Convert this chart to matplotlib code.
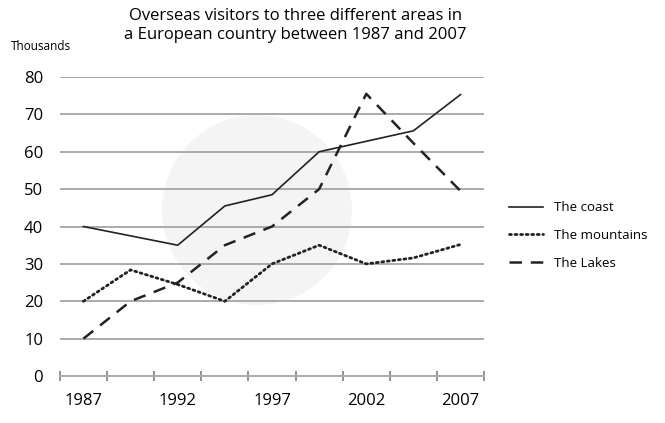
import matplotlib
matplotlib.use("Agg")
import matplotlib.pyplot as plt
from matplotlib.patches import Circle

# Data (thousands of visitors), 9 points from 1987 to 2007
years = ["1987", "", "1992", "", "1997", "", "2002", "", "2007"]
coast = [40, 37.5, 35, 45.5, 48.5, 60, 62.8, 65.6, 75.3]
mountains = [20, 28.4, 24.5, 20, 30, 35, 30, 31.6, 35.2]
lakes = [10, 20, 25, 35, 40, 50, 75.5, 62.3, 49.5]

plt.rcParams["font.family"] = ["Open Sans", "DejaVu Sans"]

fig = plt.figure(figsize=(6.65, 4.23), dpi=100)
ax = fig.add_axes([0.090, 0.111, 0.638, 0.707])
ax.set_facecolor("none")

# faint round watermark behind the plot
fig.patches.append(Circle((257, 213), 95, transform=None, facecolor="#f4f4f4",
                          edgecolor="none", zorder=-5))

x = list(range(len(years)))
ax.plot(x, coast, color="#222222", lw=1.2, label="The coast")
ax.plot(x, mountains, color="#222222", lw=2.0, linestyle=(0, (0.7, 1.3)),
        dash_capstyle="round", label="The mountains")
ax.plot(x, lakes, color="#222222", lw=1.8, linestyle=(0, (5, 3.5)), label="The Lakes")

ax.set_xlim(-0.5, 8.5)
ax.set_ylim(0, 80)
ax.set_yticks(range(0, 81, 10))
ax.yaxis.grid(True, color="#aaaaaa", lw=1.4)
ax.set_axisbelow(True)
ax.tick_params(axis="y", length=0, labelsize=12, pad=12)

ax.set_xticks([0, 2, 4, 6, 8])
ax.set_xticklabels(["1987", "1992", "1997", "2002", "2007"])
ax.set_xticks([i - 0.5 for i in range(10)], minor=True)
ax.tick_params(axis="x", which="major", length=0, labelsize=12, pad=12)
ax.tick_params(axis="x", which="minor", length=7, width=1.3, color="#888888",
               direction="inout")

for s in ["top", "right", "left"]:
    ax.spines[s].set_visible(False)
ax.spines["bottom"].set_color("#aaaaaa")
ax.spines["bottom"].set_linewidth(1.4)

fig.text(0.444, 0.94, "Overseas visitors to three different areas in\n"
         "a European country between 1987 and 2007",
         ha="center", va="center", fontsize=12, linespacing=1.3)
fig.text(0.017, 0.89, "Thousands", ha="left", va="center", fontsize=8.5)

ax.legend(loc="center left", bbox_to_anchor=(1.03, 0.47), frameon=False,
          fontsize=9.5, handlelength=2.6, labelspacing=1.1)

fig.savefig("out.png", dpi=100)
